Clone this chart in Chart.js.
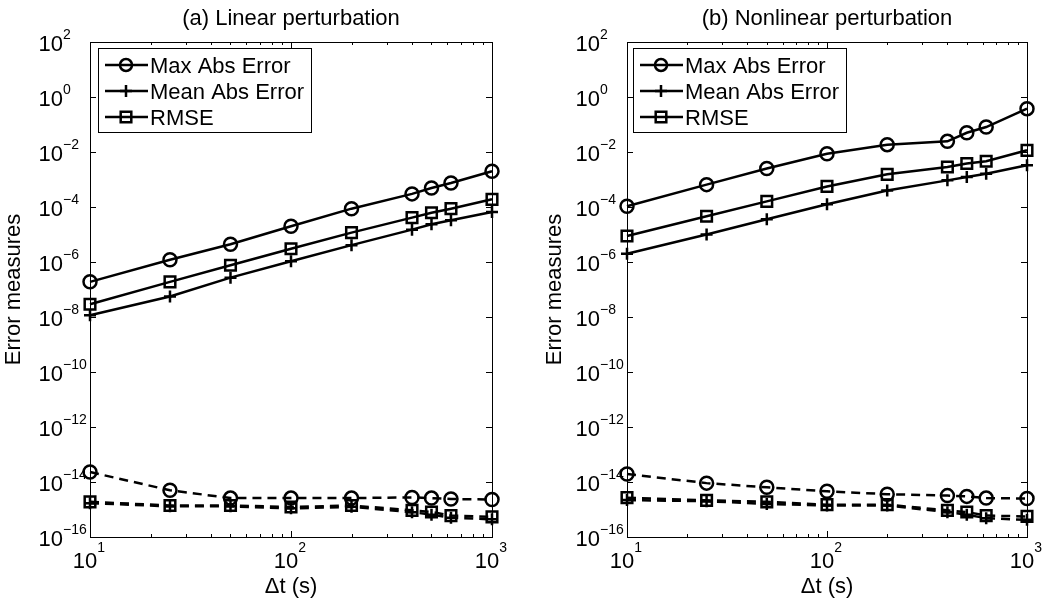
<!DOCTYPE html>
<html>
<head>
<meta charset="utf-8">
<script src="https://cdn.jsdelivr.net/npm/chart.js@4/dist/chart.umd.min.js"></script>
<style>
    html, body { margin: 0; padding: 0; background: #fff; }
    #wrap { position: relative; width: 1055px; height: 603px; }
    .panel { position: absolute; top: 0; height: 603px; }
</style>
</head>
<body>
<div id="wrap">
    <div class="panel" style="left:0;width:527px"><canvas id="chartLinear"></canvas></div>
    <div class="panel" style="left:527px;width:528px"><canvas id="chartNonlinear"></canvas></div>
</div>
<script>
// time steps (s)
const dtSteps = [10, 25, 50, 100, 200, 400, 500, 625, 1000];

// (a) linear perturbation
const linMaxAbs = [1.9e-7, 1.2e-6, 4.4e-6, 2.0e-5, 8.7e-5, 3.0e-4, 4.9e-4, 7.5e-4, 2.0e-3];
const linMeanAbs = [1.15e-8, 5.6e-8, 2.7e-7, 1.06e-6, 4.1e-6, 1.5e-5, 2.35e-5, 3.3e-5, 6.6e-5];
const linRmse = [2.9e-8, 1.9e-7, 7.6e-7, 3.05e-6, 1.17e-5, 4.1e-5, 6.2e-5, 8.7e-5, 1.9e-4];
const linMaxAbsRef = [2.3e-14, 5.0e-15, 2.6e-15, 2.6e-15, 2.6e-15, 2.75e-15, 2.6e-15, 2.4e-15, 2.3e-15];
const linMeanAbsRef = [1.7e-15, 1.3e-15, 1.3e-15, 1.1e-15, 1.25e-15, 8.0e-16, 6.5e-16, 5.0e-16, 4.4e-16];
const linRmseRef = [1.9e-15, 1.4e-15, 1.4e-15, 1.23e-15, 1.4e-15, 9.3e-16, 8.1e-16, 6.0e-16, 5.4e-16];

// (b) nonlinear perturbation
const nonMaxAbs = [1.06e-4, 6.5e-4, 2.5e-3, 8.7e-3, 1.85e-2, 2.44e-2, 5.0e-2, 8.1e-2, 0.377];
const nonMeanAbs = [2.0e-6, 1.0e-5, 3.6e-5, 1.25e-4, 4.0e-4, 9.3e-4, 1.23e-3, 1.63e-3, 3.3e-3];
const nonRmse = [8.8e-6, 4.6e-5, 1.6e-4, 5.6e-4, 1.54e-3, 2.85e-3, 3.8e-3, 4.6e-3, 1.15e-2];
const nonMaxAbsRef = [1.95e-14, 9.1e-15, 6.4e-15, 4.6e-15, 3.6e-15, 3.2e-15, 3.0e-15, 2.6e-15, 2.5e-15];
const nonMeanAbsRef = [2.2e-15, 2.0e-15, 1.6e-15, 1.4e-15, 1.4e-15, 8.0e-16, 6.5e-16, 4.8e-16, 4.2e-16];
const nonRmseRef = [2.7e-15, 2.15e-15, 1.9e-15, 1.5e-15, 1.5e-15, 9.3e-16, 8.1e-16, 6.0e-16, 5.6e-16];

const seriesNames = ["Max Abs Error", "Mean Abs Error", "RMSE"];
const yTickExps = [2, 0, -2, -4, -6, -8, -10, -12, -14, -16];
const xTickExps = [1, 2, 3];

const FONT = '"Liberation Sans", Arial, Helvetica, sans-serif';
const LINE_W = 2.5;
const markers = [
    { pointStyle: "circle", pointRadius: 6.5 },
    { pointStyle: "cross", pointRadius: 6 },
    { pointStyle: "rect", pointRadius: 7.5 },
];

const expText = (e) => (e < 0 ? "\u2212" + Math.abs(e) : String(e));

const drawMarker = (ctx, style, x, y) => {
    ctx.beginPath();
    if (style === "circle") {
        ctx.arc(x, y, 6, 0, Math.PI * 2);
    } else if (style === "cross") {
        ctx.moveTo(x, y - 6); ctx.lineTo(x, y + 6);
        ctx.moveTo(x - 6, y); ctx.lineTo(x + 6, y);
    } else {
        ctx.rect(x - 5.3, y - 5.3, 10.6, 10.6);
    }
    ctx.stroke();
};

// MATLAB-like box axes, ticks, labels, title and legend
const matlabAxes = {
    id: "matlabAxes",
    afterDraw(chart, args, opts) {
        const ctx = chart.ctx;
        const { left, right, top, bottom } = chart.chartArea;
        const xs = chart.scales.x;
        const ys = chart.scales.y;
        const line = (x1, y1, x2, y2) => {
            ctx.beginPath(); ctx.moveTo(x1, y1); ctx.lineTo(x2, y2); ctx.stroke();
        };

        ctx.save();
        ctx.strokeStyle = "#000";
        ctx.fillStyle = "#000";
        ctx.lineWidth = 1;
        ctx.strokeRect(left + 0.5, top + 0.5, right - left, bottom - top);

        // y ticks + labels
        yTickExps.forEach((e) => {
            const y = Math.round(ys.getPixelForValue(Number("1e" + e))) + 0.5;
            line(left, y, left + 6, y);
            line(right, y, right - 6, y);
            ctx.textBaseline = "alphabetic";
            ctx.font = `22px ${FONT}`;
            ctx.textAlign = "right";
            ctx.fillText("10", left - 27, y + 8);
            ctx.font = `14px ${FONT}`;
            ctx.textAlign = "left";
            ctx.fillText(expText(e), left - 27, y - 4);
        });

        // x ticks (major + minor)
        for (let d = 1; d <= 3; d++) {
            for (let m = 1; m <= (d === 3 ? 1 : 9); m++) {
                const x = Math.round(xs.getPixelForValue(m * Math.pow(10, d))) + 0.5;
                const len = m === 1 ? 6 : 3;
                line(x, bottom, x, bottom - len);
                line(x, top, x, top + len);
            }
        }
        xTickExps.forEach((e) => {
            const x = xs.getPixelForValue(Number("1e" + e));
            ctx.font = `22px ${FONT}`;
            const wBase = ctx.measureText("10").width;
            ctx.font = `14px ${FONT}`;
            const wExp = ctx.measureText(expText(e)).width;
            const start = x - (wBase + wExp) / 2 - 1;
            ctx.textAlign = "left";
            ctx.font = `22px ${FONT}`;
            ctx.fillText("10", start, bottom + 31);
            ctx.font = `14px ${FONT}`;
            ctx.fillText(expText(e), start + wBase, bottom + 15);
        });

        // axis titles and plot title
        ctx.font = `22px ${FONT}`;
        ctx.textAlign = "center";
        ctx.fillText("\u0394t (s)", (left + right) / 2, bottom + 56);
        ctx.fillText(opts.title, (left + right) / 2, 25);
        ctx.save();
        ctx.translate(opts.yTitleX, (top + bottom) / 2);
        ctx.rotate(-Math.PI / 2);
        ctx.textBaseline = "middle";
        ctx.fillText("Error measures", 0, 0);
        ctx.restore();

        // legend
        const bx = left + opts.legendDx;
        const by = top + 6;
        ctx.fillStyle = "#fff";
        ctx.fillRect(bx, by, 213, 84);
        ctx.strokeRect(bx + 0.5, by + 0.5, 213, 84);
        ctx.fillStyle = "#000";
        ctx.lineWidth = LINE_W;
        seriesNames.forEach((name, i) => {
            const ry = by + 17 + i * 26;
            line(bx + 7, ry, bx + 50, ry);
            drawMarker(ctx, markers[i].pointStyle, bx + 28, ry);
            ctx.font = `22px ${FONT}`;
            ctx.textAlign = "left";
            ctx.textBaseline = "alphabetic";
            ctx.fillText(name, bx + 52, ry + 8);
        });
        ctx.restore();
    },
};

const makeDatasets = (solid, dashed) => {
    const build = (values, i, dash) => ({
        label: seriesNames[i] + (dash ? " (ref)" : ""),
        data: dtSteps.map((x, k) => ({ x, y: values[k] })),
        borderColor: "#000",
        borderWidth: LINE_W,
        borderDash: dash ? [9, 6] : [],
        backgroundColor: "rgba(0,0,0,0)",
        pointBackgroundColor: "rgba(0,0,0,0)",
        pointBorderColor: "#000",
        pointBorderWidth: LINE_W,
        pointStyle: markers[i].pointStyle,
        pointRadius: markers[i].pointRadius,
        tension: 0,
        fill: false,
        clip: false,
    });
    return [
        ...dashed.map((v, i) => build(v, i, true)),
        ...solid.map((v, i) => build(v, i, false)),
    ];
};

const createChart = (canvasId, datasets, padding, axesOpts) => new Chart(document.getElementById(canvasId), {
    type: "line",
    data: { datasets },
    options: {
        responsive: true,
        maintainAspectRatio: false,
        animation: false,
        events: [],
        layout: { padding },
        scales: {
            x: { type: "logarithmic", min: 10, max: 1000, display: false },
            y: { type: "logarithmic", min: 1e-16, max: 1e2, display: false },
        },
        plugins: {
            legend: { display: false },
            tooltip: { enabled: false },
            matlabAxes: axesOpts,
        },
    },
    plugins: [matlabAxes],
});

createChart(
    "chartLinear",
    makeDatasets([linMaxAbs, linMeanAbs, linRmse], [linMaxAbsRef, linMeanAbsRef, linRmseRef]),
    { left: 90, right: 35, top: 42, bottom: 66 },
    { title: "(a) Linear perturbation", yTitleX: 14, legendDx: 8 }
);

createChart(
    "chartNonlinear",
    makeDatasets([nonMaxAbs, nonMeanAbs, nonRmse], [nonMaxAbsRef, nonMeanAbsRef, nonRmseRef]),
    { left: 100, right: 28, top: 42, bottom: 66 },
    { title: "(b) Nonlinear perturbation", yTitleX: 28, legendDx: 6 }
);
</script>
</body>
</html>
